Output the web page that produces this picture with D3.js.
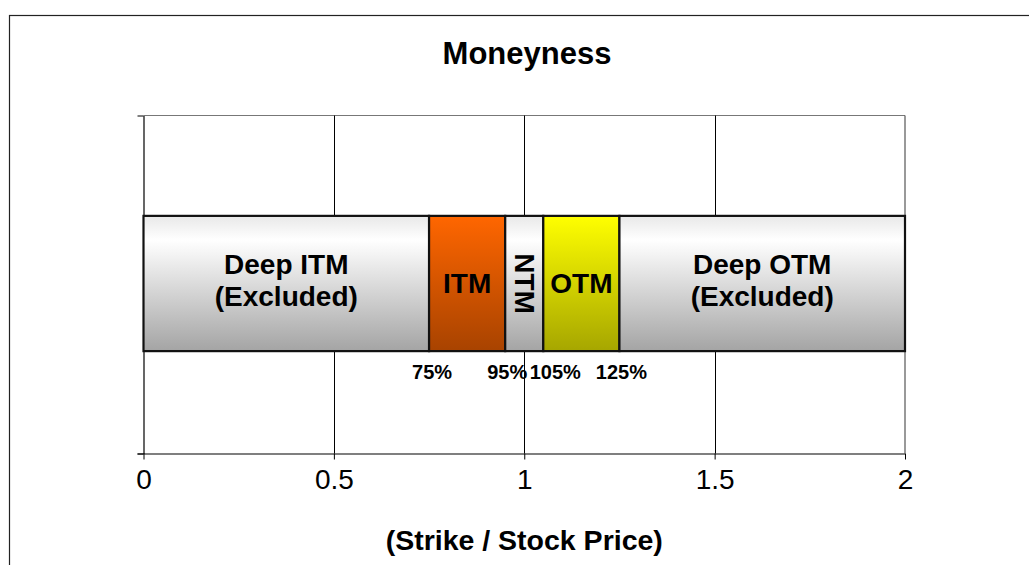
<!DOCTYPE html>
<html>
<head>
<meta charset="utf-8">
<script src="https://cdn.jsdelivr.net/npm/d3@7"></script>
<style>
  body { margin: 0; background: #fff; }
  text { font-family: "Liberation Sans", Arial, sans-serif; }
</style>
</head>
<body>
<script>
var w = 1029,
    h = 565;

// moneyness bands (strike / stock price)
var segNames  = ["Deep ITM", "ITM", "NTM", "OTM", "Deep OTM"];
var segLabels = [["Deep ITM", "(Excluded)"], ["ITM"], ["NTM"], ["OTM"], ["Deep OTM", "(Excluded)"]];
var segStart  = [0, 0.75, 0.95, 1.05, 1.25];
var segEnd    = [0.75, 0.95, 1.05, 1.25, 2];
var segColor  = ["grey", "orange", "grey", "yellow", "grey"];

var cutValues = [0.75, 0.95, 1.05, 1.25];
var cutLabels = ["75%", "95%", "105%", "125%"];
var cutShift  = [3, 2, 12, 2]; // nudges so 95% / 105% don't collide

var xTicks = [0, 0.5, 1, 1.5, 2];

var margin = {left: 143.5, right: 905, top: 115.5, bottom: 453.5};

var svg = d3.select("body").append("svg")
  .attr("width", w)
  .attr("height", h);

// gradients
var defs = svg.append("defs");
function addGrad(id, stops) {
  var g = defs.append("linearGradient").attr("id", id)
    .attr("x1", 0).attr("y1", 0).attr("x2", 0).attr("y2", 1);
  stops.forEach(function(s) {
    g.append("stop").attr("offset", s[0]).attr("stop-color", s[1]);
  });
}
addGrad("grey",   [["0%", "#e8e8e8"], ["18%", "#ffffff"], ["100%", "#a4a4a4"]]);
addGrad("orange", [["0%", "#ff6600"], ["100%", "#a84300"]]);
addGrad("yellow", [["0%", "#ffff00"], ["100%", "#a6a600"]]);

// outer frame
svg.append("rect")
  .attr("x", 9.5).attr("y", 15.5)
  .attr("width", w + 20).attr("height", h + 20)
  .attr("fill", "none")
  .attr("stroke", "#222")
  .attr("stroke-width", 1.2);

var x = d3.scaleLinear().domain([0, 2]).range([margin.left, margin.right]);
var y = d3.scaleBand().domain(["Moneyness"])
  .range([margin.bottom - 2, margin.top])
  .paddingInner(0.426).paddingOuter(0.426);
var yLin = d3.scaleLinear().domain([0, 1]).range([margin.bottom, margin.top]);

// plot frame top / right
svg.append("line")
  .attr("x1", margin.left).attr("x2", margin.right)
  .attr("y1", margin.top).attr("y2", margin.top)
  .attr("stroke", "#777").attr("stroke-width", 1.2);
svg.append("line")
  .attr("x1", margin.right).attr("x2", margin.right)
  .attr("y1", margin.top).attr("y2", margin.bottom)
  .attr("stroke", "#555").attr("stroke-width", 1.2);

// vertical grid
svg.selectAll("line.grid").data(xTicks.slice(1, -1))
  .enter().append("line")
  .attr("class", "grid")
  .attr("x1", function(d) { return Math.round(x(d)) + 0.5; })
  .attr("x2", function(d) { return Math.round(x(d)) + 0.5; })
  .attr("y1", margin.top).attr("y2", margin.bottom)
  .attr("stroke", "#000").attr("stroke-width", 1);

// x axis
var xAxis = svg.append("g")
  .attr("transform", "translate(0," + margin.bottom + ")")
  .call(d3.axisBottom(x).tickValues(xTicks).tickSize(6).tickSizeOuter(0)
    .tickFormat(function(d) { return d3.format("")(d); }));
xAxis.select(".domain").attr("stroke", "#000").attr("stroke-width", 1.2)
  .attr("d", "M" + (margin.left - 6) + ",0.5H" + margin.right);
xAxis.selectAll(".tick line").attr("stroke", "#000");
xAxis.selectAll(".tick text")
  .attr("y", 16)
  .attr("dy", "0.71em")
  .attr("font-size", "28px")
  .attr("font-family", "Liberation Sans, Arial, sans-serif")
  .attr("fill", "#000");

// y axis (no labels)
var yAxis = svg.append("g")
  .attr("transform", "translate(" + margin.left + ",0)")
  .call(d3.axisLeft(yLin).tickValues([0, 1]).tickSize(6).tickSizeOuter(0).tickFormat(""));
yAxis.select(".domain").attr("stroke", "#000").attr("stroke-width", 1.2);
yAxis.selectAll(".tick line").attr("stroke", "#000");

// bars
var segs = segNames.map(function(n, i) {
  return {name: n, lines: segLabels[i], x0: segStart[i], x1: segEnd[i], col: segColor[i]};
});

var by = y("Moneyness"), bh = y.bandwidth();

svg.selectAll("rect.seg").data(segs)
  .enter().append("rect")
  .attr("class", "seg")
  .attr("x", function(d) { return x(d.x0); })
  .attr("y", by)
  .attr("width", function(d) { return x(d.x1) - x(d.x0); })
  .attr("height", bh)
  .attr("fill", function(d) { return "url(#" + d.col + ")"; })
  .attr("stroke", "#111")
  .attr("stroke-width", 2.2);

// labels inside bars
var cy = by + bh / 2;
segs.forEach(function(d) {
  var cx = x((d.x0 + d.x1) / 2);
  if (d.name == "NTM") {
    svg.append("text")
      .attr("transform", "translate(" + (cx - 9) + "," + cy + ") rotate(90)")
      .attr("text-anchor", "middle")
      .attr("font-size", "28px")
      .attr("font-weight", "bold")
      .text(d.lines[0]);
    return;
  }
  var t = svg.append("text")
    .attr("text-anchor", "middle")
    .attr("font-size", "28px")
    .attr("font-weight", "bold")
    .attr("fill", "#000");
  var n = d.lines.length;
  d.lines.forEach(function(s, k) {
    t.append("tspan")
      .attr("x", cx)
      .attr("y", cy + (n > 1 ? 6 : 9) + (k - (n - 1) / 2) * 32)
      .text(s);
  });
});

// cut-off labels
svg.selectAll("text.cut").data(cutValues)
  .enter().append("text")
  .attr("class", "cut")
  .attr("x", function(d, i) { return x(d) + cutShift[i]; })
  .attr("y", by + bh + 28)
  .attr("text-anchor", "middle")
  .attr("font-size", "20px")
  .attr("font-weight", "bold")
  .attr("fill", "#000")
  .text(function(d, i) { return cutLabels[i]; });

// title
svg.append("text")
  .attr("x", 527).attr("y", 64)
  .attr("text-anchor", "middle")
  .attr("font-size", "31px")
  .attr("font-weight", "bold")
  .text("Moneyness");

// axis title
svg.append("text")
  .attr("x", x(1)).attr("y", 550)
  .attr("text-anchor", "middle")
  .attr("font-size", "28.5px")
  .attr("font-weight", "bold")
  .text("(Strike / Stock Price)");
</script>
</body>
</html>
